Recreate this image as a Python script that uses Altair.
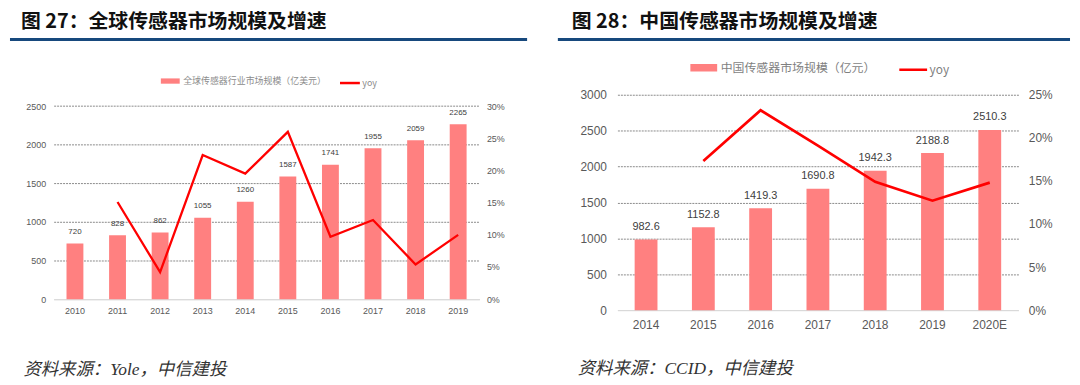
import altair as alt
import pandas as pd

# ---------------- data ----------------
years1 = ["2010", "2011", "2012", "2013", "2014", "2015", "2016", "2017", "2018", "2019"]
size1 = [720, 828, 862, 1055, 1260, 1587, 1741, 1955, 2059, 2265]
yoy1 = [None, 15.1, 4.2, 22.4, 19.5, 26.0, 9.7, 12.3, 5.4, 10.0]

years2 = ["2014", "2015", "2016", "2017", "2018", "2019", "2020E"]
size2 = [982.6, 1152.8, 1419.3, 1690.8, 1942.3, 2188.8, 2510.3]
yoy2 = [None, 17.3, 23.2, 19.1, 14.9, 12.7, 14.8]

title1 = "图 27：全球传感器市场规模及增速"
title2 = "图 28：中国传感器市场规模及增速"
bar_name1 = "全球传感器行业市场规模（亿美元）"
bar_name2 = "中国传感器市场规模（亿元）"
line_name = "yoy"
source1 = "资料来源：Yole，中信建投"
source2 = "资料来源：CCID，中信建投"

left_ticks1 = [0, 500, 1000, 1500, 2000, 2500]
right_ticks1 = [0, 5, 10, 15, 20, 25, 30]
left_ticks2 = [0, 500, 1000, 1500, 2000, 2500, 3000]
right_ticks2 = [0, 5, 10, 15, 20, 25]

BAR = "#ff8080"
LINE = "#ff0000"
BLUE = "#17497d"
LABEL = "#595959"
CJK = "Noto Sans CJK SC"
SANS = "Liberation Sans"


def panel(years, sizes, yoys, bar_name, title, source, ymax, ticks_l, pmax, ticks_r,
          W, H, top, bar_w, fs_tick, fs_bar, bar_dy, fmt, lw,
          pad_l, pad_r, pad_x, rule_x, rule_x2, rule_y,
          leg_fs, leg_color, leg_x1, leg_x2, leg_y, sym1, sym2,
          title_x, title_y, strut_y, src_x, src_y):
    df = pd.DataFrame({"year": years, "size": sizes, "yoy": yoys})
    base = alt.Chart(df).transform_calculate(bname=f"'{bar_name}'", lname=f"'{line_name}'")

    xenc = alt.X(
        "year:N", sort=years,
        scale=alt.Scale(paddingInner=0, paddingOuter=0),
        axis=alt.Axis(
            title=source, labelAngle=0, ticks=False, domainColor="#d9d9d9", domainWidth=1,
            labelColor=LABEL, labelFont=SANS, labelFontSize=fs_tick, labelPadding=pad_x,
            titleFont="Liberation Serif, " + CJK, titleFontSize=17.5, titleFontStyle="italic",
            titleFontWeight="normal", titleColor="#333333", titleAlign="left",
            titleBaseline="middle", titleX=src_x, titleY=src_y, titleAnchor="start",
        ),
    )
    yaxis = alt.Axis(
        title=None, values=ticks_l, format="d", domain=False, ticks=False, labelColor=LABEL,
        labelFont=SANS, labelFontSize=fs_tick, labelPadding=pad_l,
        gridColor={"condition": {"test": "datum.value === 0", "value": "#d9d9d9"}, "value": "#8a8a8a"},
        gridDash={"condition": {"test": "datum.value === 0", "value": []}, "value": [2, 1]},
        gridWidth=1,
    )
    yscale = alt.Scale(domain=[0, ymax], nice=False, range=[H, top])
    bars = base.mark_bar(size=bar_w).encode(
        x=xenc, y=alt.Y("size:Q", scale=yscale, axis=yaxis),
        fill=alt.Fill(
            "bname:N", scale=alt.Scale(domain=[bar_name], range=[BAR]),
            legend=alt.Legend(
                orient="none", legendX=leg_x1, legendY=leg_y, title=None,
                symbolType="M-1,-0.28H1V0.28H-1Z", symbolSize=sym1, symbolStrokeWidth=0,
                symbolOpacity=1, labelFont=CJK, labelFontSize=leg_fs, labelColor=leg_color,
                labelOffset=3.5, padding=0,
            ),
        ),
    )
    text = base.mark_text(baseline="middle", dy=bar_dy, font=SANS, fontSize=fs_bar,
                          color="#404040").encode(
        x=alt.X("year:N", sort=years),
        y=alt.Y("size:Q", scale=yscale, axis=yaxis),
        text=alt.Text("size:Q", format=fmt),
    )
    line = base.mark_line(strokeWidth=lw).encode(
        x=alt.X("year:N", sort=years),
        y=alt.Y(
            "yoy:Q", scale=alt.Scale(domain=[0, pmax], nice=False, range=[H, top]),
            axis=alt.Axis(
                orient="right", title=None, values=ticks_r, labelExpr="datum.value + '%'",
                grid=False, domain=False, ticks=False, labelColor=LABEL, labelFont=SANS,
                labelFontSize=fs_tick, labelPadding=pad_r,
            ),
        ),
        stroke=alt.Stroke(
            "lname:N", scale=alt.Scale(domain=[line_name], range=[LINE]),
            legend=alt.Legend(
                orient="none", legendX=leg_x2, legendY=leg_y, title=None,
                symbolType="stroke", symbolSize=sym2, symbolStrokeWidth=2.5,
                labelFont=CJK, labelFontSize=leg_fs, labelColor=leg_color,
                labelOffset=1, padding=0,
            ),
        ),
    )
    dummy = alt.Chart(pd.DataFrame({"k": [0]}))
    rule = dummy.mark_rule(color=BLUE, strokeWidth=3).encode(
        x=alt.value(rule_x), x2=alt.value(rule_x2), y=alt.value(rule_y)
    )
    # invisible strut that fixes the top edge of the layout above the heading
    strut = dummy.mark_rule(color="#ffffff", strokeOpacity=0, strokeWidth=1).encode(
        x=alt.value(rule_x), x2=alt.value(rule_x + 10), y=alt.value(strut_y)
    )
    head = dummy.mark_text(
        text=title, align="left", baseline="middle", font=CJK, fontSize=20,
        fontWeight="bold", color="#111111",
    ).encode(x=alt.value(title_x), y=alt.value(title_y))
    return alt.layer(alt.layer(bars, text), line, rule, strut, head).resolve_scale(
        y="independent", fill="independent", stroke="independent"
    ).properties(width=W, height=H)


p1 = panel(years1, size1, yoy1, bar_name1, title1, source1, 2500, left_ticks1, 30, right_ticks1,
           W=429, H=206, top=11.4, bar_w=17, fs_tick=9, fs_bar=8, bar_dy=-11.5, fmt="d", lw=2.3,
           pad_l=8, pad_r=7, pad_x=7, rule_x=-44, rule_x2=477, rule_y=-55.6,
           leg_fs=9, leg_color="#8c8c8c", leg_x1=108, leg_x2=287, leg_y=-23.3, sym1=361, sym2=400,
           title_x=-33, title_y=-73, strut_y=-85.3, src_x=-31, src_y=71)

p2 = panel(years2, size2, yoy2, bar_name2, title2, source2, 3000, left_ticks2, 25, right_ticks2,
           W=404, H=217, top=0, bar_w=23, fs_tick=12, fs_bar=11, bar_dy=-12.5, fmt=".1f", lw=2.7,
           pad_l=11, pad_r=10, pad_x=10, rule_x=-60, rule_x2=456, rule_y=-55.6,
           leg_fs=12, leg_color="#7f7f7f", leg_x1=73.5, leg_x2=282.5, leg_y=-40.7, sym1=729, sym2=784,
           title_x=-46, title_y=-73, strut_y=-85.3, src_x=-40.5, src_y=59.3)

chart = alt.hconcat(p1, p2, spacing=27).resolve_scale(
    fill="independent", stroke="independent"
).resolve_legend(fill="independent", stroke="independent").configure_view(stroke=None).properties(
    padding={"left": 0, "top": 0, "right": 0, "bottom": 0}
)

chart.save("out.html", embed_options={"renderer": "svg", "actions": False})
